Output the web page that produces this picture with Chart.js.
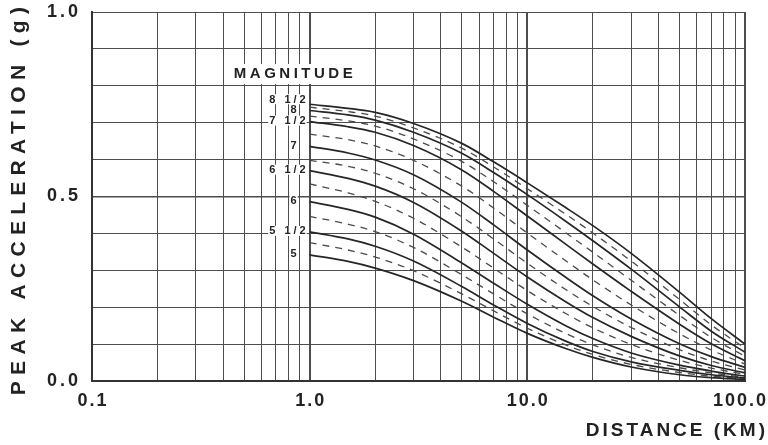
<!DOCTYPE html>
<html>
<head>
<meta charset="utf-8">
<script src="https://cdn.jsdelivr.net/npm/chart.js@4.4.0/dist/chart.umd.min.js"></script>
<style>
  html, body { margin: 0; padding: 0; background: #fff; }
  #wrap { width: 768px; height: 445px; }
</style>
</head>
<body>
<div id="wrap"><canvas id="accChart" width="768" height="445"></canvas></div>
<script>
    "use strict";

    var distances = [1, 1.5, 2, 3, 5, 7, 10, 15, 20, 30, 50, 70, 100];

    // solid curves - whole and half magnitudes
    var m85 = [0.750, 0.739, 0.728, 0.698, 0.644, 0.594, 0.537, 0.470, 0.421, 0.346, 0.241, 0.169, 0.100];
    var m80 = [0.733, 0.721, 0.707, 0.674, 0.617, 0.565, 0.505, 0.433, 0.380, 0.303, 0.201, 0.135, 0.078];
    var m75 = [0.703, 0.689, 0.674, 0.638, 0.572, 0.514, 0.447, 0.371, 0.317, 0.243, 0.154, 0.101, 0.055];
    var m70 = [0.636, 0.618, 0.599, 0.559, 0.484, 0.423, 0.355, 0.281, 0.231, 0.168, 0.101, 0.066, 0.037];
    var m65 = [0.570, 0.549, 0.528, 0.484, 0.406, 0.346, 0.282, 0.215, 0.172, 0.121, 0.068, 0.042, 0.022];
    var m60 = [0.486, 0.465, 0.444, 0.398, 0.320, 0.265, 0.208, 0.150, 0.115, 0.076, 0.043, 0.027, 0.013];
    var m55 = [0.404, 0.385, 0.365, 0.325, 0.256, 0.206, 0.156, 0.108, 0.080, 0.052, 0.029, 0.017, 0.008];
    var m50 = [0.342, 0.324, 0.306, 0.272, 0.216, 0.173, 0.129, 0.088, 0.064, 0.038, 0.017, 0.009, 0.004];

    // dashed curves - quarter magnitudes in between
    var m825 = [0.742, 0.730, 0.718, 0.686, 0.631, 0.580, 0.521, 0.452, 0.401, 0.325, 0.221, 0.152, 0.089];
    var m775 = [0.718, 0.705, 0.691, 0.656, 0.595, 0.540, 0.476, 0.402, 0.349, 0.273, 0.178, 0.118, 0.067];
    var m725 = [0.669, 0.654, 0.637, 0.598, 0.528, 0.469, 0.401, 0.326, 0.274, 0.206, 0.128, 0.084, 0.046];
    var m675 = [0.598, 0.582, 0.563, 0.521, 0.445, 0.385, 0.319, 0.248, 0.202, 0.145, 0.085, 0.054, 0.030];
    var m625 = [0.534, 0.510, 0.487, 0.441, 0.363, 0.306, 0.245, 0.183, 0.144, 0.099, 0.056, 0.035, 0.018];
    var m575 = [0.446, 0.425, 0.405, 0.362, 0.288, 0.236, 0.182, 0.129, 0.098, 0.064, 0.036, 0.022, 0.010];
    var m525 = [0.375, 0.355, 0.336, 0.299, 0.236, 0.190, 0.143, 0.098, 0.072, 0.045, 0.023, 0.013, 0.006];

    var solidCurves = [
        { label: "8 1/2", values: m85 },
        { label: "8", values: m80 },
        { label: "7 1/2", values: m75 },
        { label: "7", values: m70 },
        { label: "6 1/2", values: m65 },
        { label: "6", values: m60 },
        { label: "5 1/2", values: m55 },
        { label: "5", values: m50 }
    ];
    var dashedCurves = [m825, m775, m725, m675, m625, m575, m525];

    var xTickLabels = ["0.1", "1.0", "10.0", "100.0"];
    var yTickLabels = ["0.0", "0.5", "1.0"];

    var FONT = "'Liberation Sans', Arial, Helvetica, sans-serif";
    var INK = "#222";

    function toPoints(values) {
        return values.map(function (v, i) { return { x: distances[i], y: v }; });
    }

    var datasets = [];
    solidCurves.forEach(function (c) {
        datasets.push({
            label: "M " + c.label,
            data: toPoints(c.values),
            borderColor: "#262626",
            borderWidth: 1.7,
            pointRadius: 0,
            cubicInterpolationMode: "monotone",
            fill: false
        });
    });
    dashedCurves.forEach(function (vals, i) {
        datasets.push({
            label: "dashed " + i,
            data: toPoints(vals),
            borderColor: "#4a4a4a",
            borderWidth: 1.3,
            borderDash: [7, 6],
            pointRadius: 0,
            cubicInterpolationMode: "monotone",
            fill: false
        });
    });

    function isDecade(v) {
        var l = Math.log10(v);
        return Math.abs(l - Math.round(l)) < 1e-9;
    }

    // titles, x tick labels and magnitude labels
    var labelPlugin = {
        id: "labels",
        beforeDraw: function (chart) {
            chart.ctx.letterSpacing = "3px";   // y tick labels are spaced out too
        },
        afterDraw: function (chart) {
            var ctx = chart.ctx;
            var xs = chart.scales.x, ys = chart.scales.y;
            ctx.save();
            ctx.fillStyle = INK;

            // x tick labels
            ctx.font = "bold 18px " + FONT;
            ctx.letterSpacing = "2px";
            ctx.textBaseline = "middle";
            ctx.textAlign = "center";
            [0.1, 1, 10, 100].forEach(function (v, i) {
                var w = ctx.measureText(xTickLabels[i]).width;
                var px = Math.min(xs.getPixelForValue(v), 767 - w / 2);
                ctx.fillText(xTickLabels[i], px + 1, 401);
            });

            // x title
            ctx.font = "bold 19px " + FONT;
            ctx.letterSpacing = "3px";
            ctx.textAlign = "right";
            ctx.fillText("DISTANCE (KM)", 768, 431);

            // y title
            ctx.save();
            ctx.translate(19, 201);
            ctx.rotate(-Math.PI / 2);
            ctx.font = "bold 21px " + FONT;
            ctx.letterSpacing = "6.3px";
            ctx.textAlign = "center";
            ctx.fillText("PEAK ACCELERATION (g)", 3, 0);
            ctx.restore();

            // MAGNITUDE
            ctx.font = "bold 15px " + FONT;
            ctx.letterSpacing = "3.5px";
            ctx.textAlign = "center";
            ctx.fillStyle = "#fff";
            ctx.fillRect(227, 64, 132, 20);
            ctx.fillStyle = INK;
            ctx.fillText("MAGNITUDE", 295, 74);

            // magnitude labels beside the start of each solid curve
            ctx.font = "bold 11px " + FONT;
            ctx.letterSpacing = "3px";
            var x1 = xs.getPixelForValue(1);
            solidCurves.forEach(function (c, i) {
                var py = ys.getPixelForValue(c.values[0]) - (i === 0 ? 5 : 1);
                var w = ctx.measureText(c.label).width;
                var half = c.label.indexOf("/") > 0;
                var right = half ? x1 - 1 : x1 - 10;
                var left = right - w;
                ctx.fillStyle = "#fff";
                ctx.fillRect(left - 1, py - 5, w - 1, 10);
                ctx.fillStyle = INK;
                ctx.textAlign = "left";
                ctx.fillText(c.label, left, py + 0.5);
            });
            ctx.restore();
            ctx.letterSpacing = "0px";
        }
    };

    var ctx = document.getElementById("accChart");
    var accChart = new Chart(ctx, {
        type: "line",
        data: { datasets: datasets },
        options: {
            responsive: false,
            animation: false,
            devicePixelRatio: 1,
            layout: { padding: { left: 0, right: 23, top: 12, bottom: 0 } },
            plugins: {
                legend: { display: false },
                tooltip: { enabled: false }
            },
            scales: {
                x: {
                    type: "logarithmic",
                    min: 0.1,
                    max: 100,
                    afterBuildTicks: function (scale) {
                        var t = [];
                        [0.1, 1, 10].forEach(function (d) {
                            for (var k = 1; k < 10; k++) t.push({ value: k * d });
                        });
                        t.push({ value: 100 });
                        scale.ticks = t;
                    },
                    afterFit: function (scale) {
                        scale.height = 64;
                        scale.paddingLeft = 0;
                        scale.paddingRight = 0;
                    },
                    ticks: { display: false, autoSkip: false },
                    grid: {
                        color: "#4d4d4d",
                        drawTicks: false,
                        lineWidth: function (c) {
                            return c.tick && isDecade(c.tick.value) ? 2 : 1;
                        }
                    },
                    border: { color: "#333", width: 2 }
                },
                y: {
                    min: 0,
                    max: 1,
                    afterFit: function (scale) {
                        scale.width = 92;
                        scale.paddingTop = 0;
                        scale.paddingBottom = 0;
                    },
                    ticks: {
                        stepSize: 0.1,
                        padding: 11,
                        color: INK,
                        font: { family: FONT, size: 18, weight: "bold" },
                        callback: function (v) {
                            var r = Math.round(v * 10);
                            if (r === 0) return yTickLabels[0];
                            if (r === 5) return yTickLabels[1];
                            if (r === 10) return yTickLabels[2];
                            return "";
                        }
                    },
                    grid: {
                        color: "#4d4d4d",
                        drawTicks: false,
                        lineWidth: function (c) {
                            return c.tick && Math.round(c.tick.value * 10) === 5 ? 1.6 : 1;
                        }
                    },
                    border: { color: "#333", width: 2 }
                }
            }
        },
        plugins: [labelPlugin]
    });
</script>
</body>
</html>
